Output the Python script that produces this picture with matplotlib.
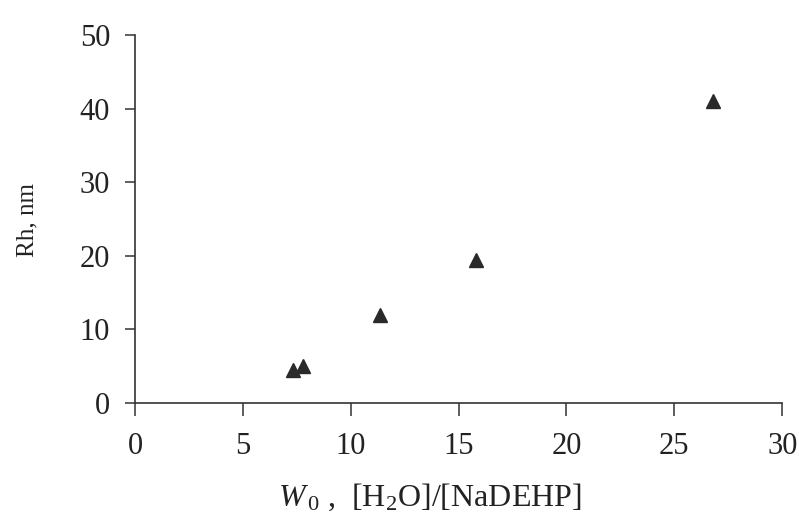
import matplotlib
matplotlib.use("Agg")
import matplotlib.pyplot as plt

# hydrodynamic radius vs water content
w0 = [7.3, 7.8, 11.35, 15.8, 26.8]
rh = [4.5, 5.0, 12.0, 19.4, 41.1]

xticks = [0, 5, 10, 15, 20, 25, 30]
yticks = [0, 10, 20, 30, 40, 50]

plt.rcParams['font.family'] = ['Liberation Serif', 'DejaVu Serif']
plt.rcParams['mathtext.fontset'] = 'custom'
plt.rcParams['mathtext.rm'] = 'Liberation Serif'
plt.rcParams['mathtext.it'] = 'Liberation Serif:italic'

fig = plt.figure(figsize=(7.99, 5.17), dpi=100)
ax = fig.add_axes([0.169, 0.2205, 0.81, 0.7115])

ax.plot(w0, rh, linestyle='none', marker='^', markersize=9.5,
        color='#2a2a2a', clip_on=False)

ax.set_xlim(0, 30)
ax.set_ylim(0, 50)
ax.set_xticks(xticks)
ax.set_yticks(yticks)

for side in ['top', 'right']:
    ax.spines[side].set_visible(False)
for side in ['left', 'bottom']:
    ax.spines[side].set_color('#333333')
    ax.spines[side].set_linewidth(1.2)

ax.tick_params(axis='x', direction='out', length=9, width=1.1, colors='#333333',
               labelsize=22, pad=12, labelcolor='#222222')
ax.tick_params(axis='y', direction='out', length=7, width=1.1, colors='#333333',
               labelsize=22, pad=11, labelcolor='#222222')

fig.text(0.034, 0.575, 'Rh, nm', fontsize=18, color='#222222',
         rotation=90, ha='center', va='center')
fig.text(0.538, 0.022, r'$W_{\,\mathit{0}}$ ,  [H$_2$O]/[NaDEHP]', fontsize=23,
         color='#222222', ha='center', va='baseline')

fig.savefig('out.png', dpi=100)
